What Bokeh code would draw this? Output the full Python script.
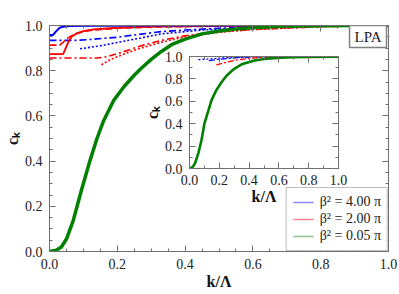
from bokeh.plotting import figure
from bokeh.models import (LinearAxis, Range1d, Legend, LegendItem, Label, NumeralTickFormatter,
                          CustomJSTickFormatter)
from bokeh.embed import file_html
from bokeh.resources import INLINE

# ---------------- data ----------------
# main panel, beta^2 = 0.05 pi (thick green)
g_k = [0, 0.02, 0.035, 0.05, 0.07, 0.094, 0.119, 0.14, 0.16, 0.19, 0.22, 0.25, 0.27, 0.30, 0.33,
       0.36, 0.40, 0.45, 0.50, 0.55, 0.60, 0.65, 0.70, 0.80, 0.90, 1.0]
g_c = [0, 0.006, 0.02, 0.055, 0.137, 0.27, 0.40, 0.50, 0.58, 0.67, 0.73, 0.78, 0.81, 0.85, 0.885,
       0.915, 0.94, 0.963, 0.976, 0.985, 0.99, 0.994, 0.997, 0.999, 1.0, 1.0]
# beta^2 = 4.00 pi (blue)
b_sol_k = [0, 0.01, 0.02, 0.03, 0.04, 0.06, 0.1, 0.3, 1.0]
b_sol_c = [0.958, 0.958, 0.975, 0.99, 0.995, 0.998, 0.999, 1.0, 1.0]
b_dd_k = [0, 0.07, 0.12, 0.2, 0.27, 0.33, 0.4, 0.5, 0.6, 0.8, 1.0]
b_dd_c = [0.934, 0.934, 0.938, 0.948, 0.962, 0.973, 0.98, 0.988, 0.993, 0.998, 1.0]
b_dot_k = [0.09, 0.15, 0.2, 0.27, 0.33, 0.45, 0.6, 0.8, 1.0]
b_dot_c = [0.897, 0.91, 0.925, 0.945, 0.963, 0.98, 0.99, 0.997, 1.0]
# beta^2 = 2.00 pi (red)
r_sol_k = [0, 0.04, 0.045, 0.055, 0.065, 0.08, 0.1, 0.13, 0.2, 0.3, 0.5, 1.0]
r_sol_c = [0.873, 0.873, 0.89, 0.925, 0.95, 0.965, 0.975, 0.983, 0.99, 0.995, 0.998, 1.0]
r_das_k = [0, 0.03, 0.04, 0.05, 0.065, 0.08, 0.1, 0.13, 0.2, 0.3, 0.5, 1.0]
r_das_c = [0.913, 0.913, 0.925, 0.94, 0.955, 0.965, 0.973, 0.98, 0.988, 0.993, 0.997, 1.0]
r_dd_k = [0, 0.14, 0.17, 0.21, 0.27, 0.33, 0.4, 0.5, 0.6, 0.8, 1.0]
r_dd_c = [0.856, 0.856, 0.862, 0.88, 0.91, 0.934, 0.955, 0.972, 0.983, 0.995, 1.0]
r_dot_k = [0.153, 0.18, 0.23, 0.27, 0.33, 0.4, 0.5, 0.6, 0.8, 1.0]
r_dot_c = [0.826, 0.85, 0.88, 0.90, 0.926, 0.95, 0.97, 0.982, 0.995, 1.0]

# inset panel
ig_k = [0, 0.02, 0.037, 0.06, 0.08, 0.10, 0.125, 0.148, 0.18, 0.215, 0.25, 0.30, 0.35, 0.437,
        0.5, 0.61, 0.7, 0.8, 1.0]
ig_c = [0, 0.012, 0.045, 0.14, 0.25, 0.40, 0.51, 0.61, 0.70, 0.77, 0.83, 0.89, 0.93, 0.965,
        0.978, 0.99, 0.994, 0.997, 0.998]
ib_dd_k = [0.13, 0.2, 0.3, 0.4, 0.5, 0.6]
ib_dd_c = [0.964, 0.975, 0.987, 0.994, 0.997, 0.999]
ib_dot_k = [0.06, 0.15, 0.25, 0.4]
ib_dot_c = [0.972, 0.98, 0.99, 0.996]
ir_dd_k = [0.18, 0.25, 0.3, 0.4, 0.5, 0.6]
ir_dd_c = [0.926, 0.95, 0.965, 0.983, 0.993, 0.997]

legend_labels = ["β² = 4.00 π", "β² = 2.00 π", "β² = 0.05 π"]
box_text = "LPA"
x_label = "k/Λ"
y_label = "cₖ"

FONT = "Liberation Serif"
BLUE, RED, GREEN = "#0000ff", "#ff0000", "#008000"
LEG_COLORS = ["#8c8cff", "#ff8c8c", "#8cc88c"]
AX = "#707070"


def style_axis(ax, labels=True, minor=4, tick_standoff=7, label_standoff=1):
    ax.axis_line_color = AX
    ax.major_tick_line_color = AX
    ax.minor_tick_line_color = AX
    ax.major_tick_in = 6
    ax.major_tick_out = 0
    ax.minor_tick_in = 3
    ax.minor_tick_out = 0
    ax.ticker.num_minor_ticks = minor
    ax.ticker.desired_num_ticks = 6
    if labels:
        ax.formatter = NumeralTickFormatter(format="0.0")
        ax.major_label_text_font = FONT
        ax.major_label_text_font_size = "14px"
        ax.major_label_text_color = "#222222"
        ax.major_label_standoff = tick_standoff
        ax.axis_label_text_font = FONT
        ax.axis_label_text_font_style = "bold"
        ax.axis_label_text_font_size = "16px"
        ax.axis_label_text_color = "#111111"
        ax.axis_label_standoff = label_standoff
    else:
        ax.formatter = CustomJSTickFormatter(code="return ''")
        ax.major_label_text_font_size = "0px"
        ax.major_label_standoff = 0


# ---------------- main figure ----------------
p = figure(width=399, height=294, output_backend="svg", toolbar_location=None,
           x_range=Range1d(0, 1), y_range=Range1d(0, 1),
           min_border_left=48, min_border_right=11, min_border_top=25, min_border_bottom=43)
p.xgrid.visible = False
p.ygrid.visible = False
p.outline_line_color = AX
p.xaxis.axis_label = x_label
p.yaxis.axis_label = y_label
style_axis(p.xaxis[0])
style_axis(p.yaxis[0])
top_ax = LinearAxis()
right_ax = LinearAxis()
p.add_layout(top_ax, "above")
p.add_layout(right_ax, "right")
style_axis(top_ax, labels=False)
style_axis(right_ax, labels=False)

# pale legend keys, drawn underneath the matching (wider) curves
leg_r = [p.line(b_sol_k, b_sol_c, color=LEG_COLORS[0], line_width=1.3),
         p.line(r_sol_k, r_sol_c, color=LEG_COLORS[1], line_width=1.3),
         p.line(g_k, g_c, color=LEG_COLORS[2], line_width=1.3)]

lw = 1.6
p.line(b_dot_k, b_dot_c, color=BLUE, line_width=lw, line_dash="2 2")
p.line(r_dot_k, r_dot_c, color=RED, line_width=lw, line_dash="2 2")
p.line(b_dd_k, b_dd_c, color=BLUE, line_width=lw, line_dash="7 3 2 3")
p.line(r_dd_k, r_dd_c, color=RED, line_width=lw, line_dash="7 3 2 3")
p.line(r_das_k, r_das_c, color=RED, line_width=lw, line_dash="7 3")
p.line(r_sol_k, r_sol_c, color=RED, line_width=1.8)
p.line(b_sol_k, b_sol_c, color=BLUE, line_width=2)
p.line(g_k, g_c, color=GREEN, line_width=3.5)

legend = Legend(items=[LegendItem(label=l, renderers=[r]) for l, r in zip(legend_labels, leg_r)],
                location="bottom_right", margin=0, padding=6, spacing=1,
                glyph_width=21, glyph_height=16, label_height=16, label_standoff=6,
                label_text_font=FONT, label_text_font_size="14px", label_text_color="#222222",
                border_line_color="#808080", border_line_width=1)
p.add_layout(legend)

p.add_layout(Label(x=1, y=1, text=box_text, text_align="right", text_baseline="top",
                   x_offset=-2, y_offset=0, padding=dict(left=5, right=5, top=3, bottom=3),
                   text_font=FONT, text_font_size="15px",
                   text_color="#222222", border_line_color="#808080", border_line_width=1.5,
                   background_fill_color="white"))

# ---------------- inset figure ----------------
ins = figure(width=208, height=166, output_backend="svg", toolbar_location=None,
             x_range=Range1d(0, 1), y_range=Range1d(0, 1),
             min_border_left=48, min_border_right=10, min_border_top=10, min_border_bottom=44,
             background_fill_alpha=0, border_fill_alpha=0,
             styles={"position": "absolute", "left": "140px", "top": "46px"})
ins.xgrid.visible = False
ins.ygrid.visible = False
ins.outline_line_color = AX
ins.xaxis.axis_label = x_label
ins.yaxis.axis_label = y_label
style_axis(ins.xaxis[0], minor=2, tick_standoff=6, label_standoff=0)
style_axis(ins.yaxis[0], minor=2)
itop = LinearAxis()
iright = LinearAxis()
ins.add_layout(itop, "above")
ins.add_layout(iright, "right")
style_axis(itop, labels=False, minor=2)
style_axis(iright, labels=False, minor=2)
ins.line(ib_dot_k, ib_dot_c, color=BLUE, line_width=1.3, line_dash="2 2")
ins.line(ib_dd_k, ib_dd_c, color=BLUE, line_width=1.3, line_dash="6 2 2 2")
ins.line(ir_dd_k, ir_dd_c, color=RED, line_width=1.3, line_dash="6 2 2 2")
ins.line(ig_k, ig_c, color=GREEN, line_width=2.6)

open("out.html", "w").write(file_html([p, ins], INLINE))
